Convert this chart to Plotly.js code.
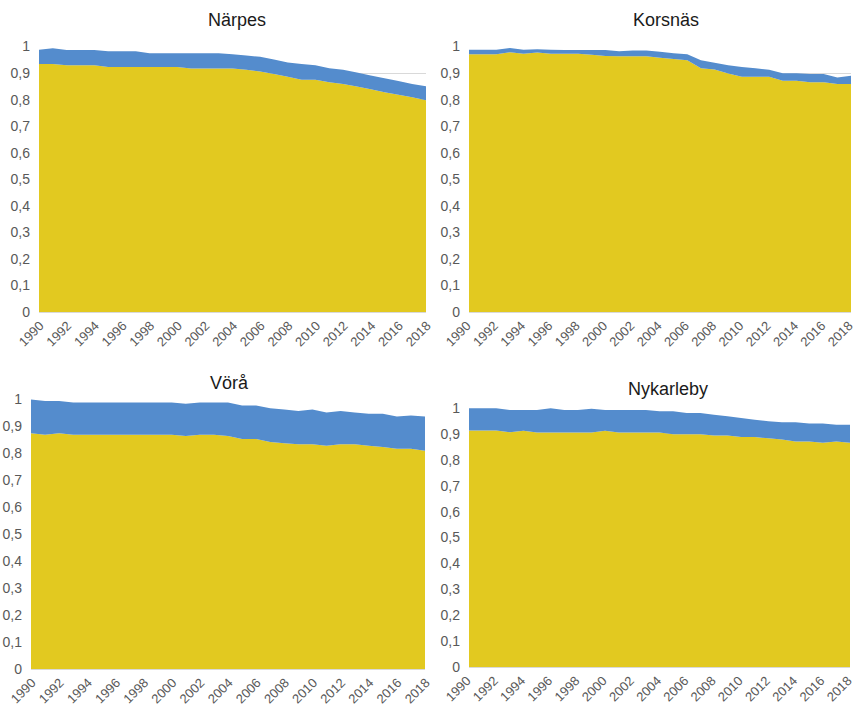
<!DOCTYPE html>
<html>
<head>
<meta charset="utf-8">
<script src="https://cdn.plot.ly/plotly-3.0.1.min.js"></script>
<style>
  html, body { margin: 0; padding: 0; background: #fff; }
  #chart { width: 856px; height: 706px; }
</style>
</head>
<body>
<div id="chart"></div>
<script>
// Years on the x axis
const years = [1990,1991,1992,1993,1994,1995,1996,1997,1998,1999,2000,2001,2002,2003,2004,
               2005,2006,2007,2008,2009,2010,2011,2012,2013,2014,2015,2016,2017,2018];

// Municipality names (panel titles)
const municipalities = ["Närpes", "Korsnäs", "Vörå", "Nykarleby"];

// Lower (yellow) share per municipality
const narpesYellow = [0.934,0.934,0.929,0.929,0.929,0.923,0.923,0.923,0.923,0.923,0.923,0.917,0.917,0.917,0.917,
                      0.912,0.906,0.896,0.886,0.875,0.875,0.865,0.859,0.849,0.839,0.828,0.818,0.809,0.798];
const korsnasYellow = [0.971,0.971,0.971,0.978,0.973,0.977,0.973,0.973,0.973,0.969,0.964,0.963,0.963,0.963,0.958,
                       0.953,0.948,0.918,0.913,0.898,0.886,0.886,0.886,0.871,0.871,0.865,0.865,0.859,0.859];
const voraYellow = [0.873,0.868,0.873,0.868,0.868,0.868,0.868,0.868,0.868,0.868,0.868,0.863,0.868,0.868,0.863,
                    0.852,0.852,0.841,0.836,0.832,0.832,0.827,0.832,0.832,0.827,0.822,0.816,0.816,0.808];
const nykarlebyYellow = [0.913,0.913,0.913,0.906,0.912,0.905,0.905,0.905,0.905,0.905,0.912,0.905,0.905,0.905,0.905,
                         0.899,0.899,0.899,0.894,0.894,0.888,0.888,0.883,0.878,0.871,0.871,0.866,0.871,0.866];

// Upper (blue) share per municipality
const narpesBlue = [0.054,0.059,0.058,0.058,0.058,0.059,0.059,0.059,0.052,0.052,0.052,0.058,0.058,0.058,0.054,
                    0.054,0.055,0.055,0.054,0.059,0.054,0.053,0.053,0.053,0.052,0.052,0.052,0.050,0.052];
const korsnasBlue = [0.017,0.017,0.017,0.016,0.015,0.013,0.015,0.014,0.014,0.018,0.023,0.019,0.022,0.022,0.022,
                     0.022,0.023,0.030,0.026,0.031,0.037,0.032,0.026,0.028,0.028,0.031,0.031,0.024,0.031];
const voraBlue = [0.125,0.125,0.120,0.119,0.119,0.119,0.119,0.119,0.119,0.119,0.119,0.119,0.119,0.119,0.124,
                  0.124,0.124,0.125,0.125,0.124,0.129,0.123,0.124,0.118,0.118,0.123,0.119,0.123,0.127];
const nykarlebyBlue = [0.086,0.086,0.086,0.086,0.080,0.087,0.094,0.087,0.087,0.092,0.080,0.087,0.087,0.087,0.082,
                       0.088,0.082,0.082,0.080,0.074,0.073,0.067,0.066,0.067,0.074,0.069,0.074,0.064,0.069];

// Tick labels
const xTickVals = [1990,1992,1994,1996,1998,2000,2002,2004,2006,2008,2010,2012,2014,2016,2018];
const xTickText = ["1990","1992","1994","1996","1998","2000","2002","2004","2006","2008","2010","2012","2014","2016","2018"];
const yTickVals = [0,0.1,0.2,0.3,0.4,0.5,0.6,0.7,0.8,0.9,1];
const yTickText = ["0","0,1","0,2","0,3","0,4","0,5","0,6","0,7","0,8","0,9","1"];

const YELLOW = "#e2c920";
const BLUE = "#548ccd";
const W = 856, H = 706;

// Panel placement in pixels: left, right, top (value 1), bottom (value 0),
// title centre (tx, ty) and horizontal shift of the year labels
const panels = [
  { name: municipalities[0], yellow: narpesYellow,    blue: narpesBlue,    l: 39,  r: 426, t: 46.5, b: 312, tx: 237, ty: 20,  shift: 1 },
  { name: municipalities[1], yellow: korsnasYellow,   blue: korsnasBlue,   l: 469, r: 851, t: 46.5, b: 312, tx: 666, ty: 20,  shift: -2 },
  { name: municipalities[2], yellow: voraYellow,      blue: voraBlue,      l: 31,  r: 425, t: 399,  b: 669, tx: 229, ty: 383, shift: 1 },
  { name: municipalities[3], yellow: nykarlebyYellow, blue: nykarlebyBlue, l: 469, r: 850, t: 408,  b: 667, tx: 668, ty: 389, shift: -2 }
];

const FONT = "Liberation Sans, Arial, sans-serif";
const xTickFont = { family: FONT, size: 13, color: "#595959" };
const yTickFont = { family: FONT, size: 14, color: "#595959" };
const traces = [];
const layout = {
  width: W, height: H,
  margin: { l: 0, r: 0, t: 0, b: 0 },
  paper_bgcolor: "#fff", plot_bgcolor: "#fff",
  showlegend: false,
  annotations: []
};

panels.forEach((p, i) => {
  const n = i + 1;
  const xa = "x" + (n === 1 ? "" : n), ya = "y" + (n === 1 ? "" : n);
  const group = "g" + n;
  traces.push({
    type: "scatter", x: years, y: p.yellow, xaxis: xa, yaxis: ya,
    stackgroup: group, mode: "none", fillcolor: YELLOW, hoverinfo: "skip"
  });
  traces.push({
    type: "scatter", x: years, y: p.blue, xaxis: xa, yaxis: ya,
    stackgroup: group, mode: "none", fillcolor: BLUE, hoverinfo: "skip"
  });
  layout["xaxis" + (n === 1 ? "" : n)] = {
    domain: [p.l / W, p.r / W], anchor: ya,
    range: [1990, 2018.0001], fixedrange: true,
    tickmode: "array", tickvals: xTickVals, ticktext: xTickText,
    tickangle: -45, tickfont: xTickFont, ticks: "",
    ticklabelstandoff: 0, ticklabelshift: p.shift, ticklabeloverflow: "allow",
    showgrid: false, zeroline: false,
    showline: true, linecolor: "#d9d9d9", linewidth: 1
  };
  layout["yaxis" + (n === 1 ? "" : n)] = {
    domain: [1 - p.b / H, 1 - p.t / H], anchor: xa,
    range: [0, 1], fixedrange: true,
    tickmode: "array", tickvals: yTickVals, ticktext: yTickText,
    tickfont: yTickFont, ticks: "", ticklabelstandoff: 8,
    showgrid: true, gridcolor: "#d9d9d9", gridwidth: 1, zeroline: false
  };
  layout.annotations.push({
    text: p.name, xref: "paper", yref: "paper",
    x: p.tx / W, y: 1 - p.ty / H,
    xanchor: "center", yanchor: "middle", showarrow: false,
    font: { family: FONT, size: 18, color: "#1a1a1a" }
  });
});

Plotly.newPlot("chart", traces, layout, { staticPlot: true, displayModeBar: false });
</script>
</body>
</html>
